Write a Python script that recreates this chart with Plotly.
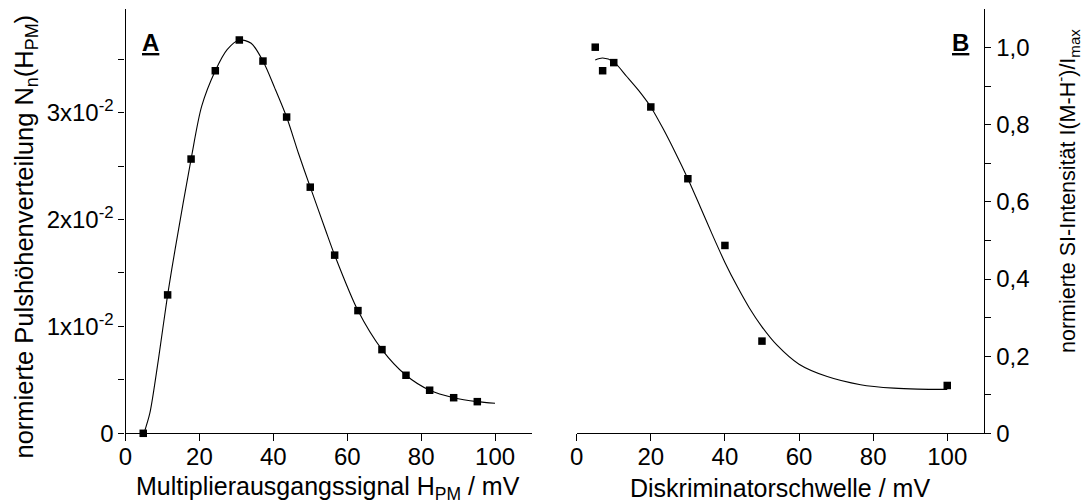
import plotly.graph_objects as go

# Panel A: normalised pulse height distribution
h_pm = [4.8, 11.4, 17.75, 24.3, 30.8, 37.2, 43.6, 50.0, 56.6, 62.9, 69.4, 75.9, 82.3, 88.8, 95.2]
n_n = [0.0000, 0.01295, 0.02566, 0.03392, 0.0368, 0.03483, 0.02959, 0.02303,
       0.01667, 0.01148, 0.00783, 0.00543, 0.00403, 0.00333, 0.00296]

fit_a_x = [5.0, 6.6, 8.9, 11.4, 13.4, 17.75, 20.6, 24.3, 27.5, 30.8, 34.0, 37.2, 40.4,
           43.6, 46.8, 50.0, 54.1, 56.6, 62.9, 69.4, 75.9, 82.3, 88.8, 95.2, 100.0]
fit_a_y = [0.0000, 0.0019, 0.0069, 0.01295, 0.01716, 0.02566, 0.03058, 0.03392, 0.0359,
           0.0368, 0.0365, 0.03483, 0.0323, 0.02959, 0.0262, 0.02303, 0.01905, 0.01667,
           0.01148, 0.00783, 0.00543, 0.00403, 0.00333, 0.00296, 0.00281]

# Panel B: normalised SI intensity vs. discriminator threshold
threshold = [5, 7, 10, 20, 30, 40, 50, 100]
intensity = [1.001, 0.940, 0.961, 0.846, 0.660, 0.487, 0.239, 0.124]

fit_b_x = [5, 7, 10, 13.5, 16.7, 20, 23.3, 26.6, 30, 33.3, 36.6, 40, 43.3, 46.6, 50,
           54, 60, 67.6, 76.6, 85.6, 92, 100]
fit_b_y = [0.968, 0.973, 0.963, 0.925, 0.889, 0.846, 0.790, 0.728, 0.660, 0.588, 0.515,
           0.443, 0.381, 0.325, 0.276, 0.229, 0.179, 0.147, 0.126, 0.117, 0.1145, 0.114]

x_ticks = [0, 20, 40, 60, 80, 100]
ya_ticks = [0, 0.01, 0.02, 0.03]
ya_text = ["0", "1x10<sup>-2</sup>", "2x10<sup>-2</sup>", "3x10<sup>-2</sup>"]
ya_minor = [0.005, 0.015, 0.025, 0.035]
yb_ticks = [0, 0.2, 0.4, 0.6, 0.8, 1.0]
yb_text = ["0", "0,2", "0,4", "0,6", "0,8", "1,0"]
yb_minor = [0.1, 0.3, 0.5, 0.7, 0.9]

W, H = 1083, 503
FONT = "Arial, Liberation Sans, sans-serif"


def px(x):
    return x / W


def py(y):
    return 1 - y / H


dom_a = [px(125.5), px(532.0)]
dom_b = [px(576.7), px(984.3)]
dom_y = [py(433.3), py(9.0)]

fig = go.Figure()

fig.add_trace(go.Scatter(x=fit_a_x, y=fit_a_y, mode="lines",
                         line=dict(color="black", width=1.1, shape="spline", smoothing=0.8),
                         xaxis="x", yaxis="y", showlegend=False, hoverinfo="skip"))
fig.add_trace(go.Scatter(x=h_pm, y=n_n, mode="markers",
                         marker=dict(symbol="square", size=7.5, color="black"),
                         xaxis="x", yaxis="y", showlegend=False, cliponaxis=False))
fig.add_trace(go.Scatter(x=fit_b_x, y=fit_b_y, mode="lines",
                         line=dict(color="black", width=1.1, shape="spline", smoothing=0.8),
                         xaxis="x2", yaxis="y2", showlegend=False, hoverinfo="skip"))
fig.add_trace(go.Scatter(x=threshold, y=intensity, mode="markers",
                         marker=dict(symbol="square", size=7.5, color="black"),
                         xaxis="x2", yaxis="y2", showlegend=False, cliponaxis=False))

axis_common = dict(showgrid=False, zeroline=False, showline=True, linecolor="black",
                   linewidth=1.2, tickcolor="black", tickwidth=1.2, automargin=False,
                   tickfont=dict(family=FONT, size=24, color="black"))


def minor_ticks(vals, direction):
    return dict(tickvals=vals, ticks=direction, ticklen=6, tickwidth=1.2,
                tickcolor="black", showgrid=False)


fig.update_layout(
    template="none",
    width=W, height=H, autosize=False,
    margin=dict(l=0, r=0, t=0, b=0, pad=0),
    paper_bgcolor="white", plot_bgcolor="white",
    font=dict(family=FONT, color="black"),
    xaxis=dict(domain=dom_a, range=[0, 110], tickvals=x_ticks, ticks="outside",
               ticklen=7, ticklabelstandoff=-5, anchor="y", **axis_common),
    yaxis=dict(domain=dom_y, range=[0, 0.0397], tickvals=ya_ticks, ticktext=ya_text,
               ticks="outside", ticklen=6, anchor="x",
               minor=minor_ticks(ya_minor, "outside"), **axis_common),
    xaxis3=dict(overlaying="x", side="top", anchor="y", range=[0, 110], tickvals=x_ticks,
                ticks="inside", ticklen=7, showticklabels=False, **axis_common),
    yaxis3=dict(overlaying="y", side="right", anchor="x", range=[0, 0.0397],
                tickvals=ya_ticks, ticks="inside", ticklen=6, showticklabels=False,
                minor=minor_ticks(ya_minor, "inside"), **axis_common),
    xaxis2=dict(domain=dom_b, range=[0, 110], tickvals=x_ticks, ticks="outside",
                ticklen=7, ticklabelstandoff=-5, anchor="y2", **axis_common),
    yaxis2=dict(domain=dom_y, range=[0, 1.1], tickvals=yb_ticks, ticktext=yb_text,
                side="right", ticks="outside", ticklen=6, anchor="x2",
                minor=minor_ticks(yb_minor, "outside"), **axis_common),
    xaxis4=dict(overlaying="x2", side="top", anchor="y2", range=[0, 110], tickvals=x_ticks,
                ticks="inside", ticklen=7, showticklabels=False, **axis_common),
    yaxis4=dict(overlaying="y2", side="left", anchor="x2", range=[0, 1.1],
                tickvals=yb_ticks, ticks="inside", ticklen=6, showticklabels=False,
                minor=minor_ticks(yb_minor, "inside"), **axis_common),
)

annotations = [
    dict(text="Multiplierausgangssignal H<sub>PM</sub> / mV", x=px(328), y=py(488),
         font=dict(size=25)),
    dict(text="Diskriminatorschwelle / mV", x=px(779.5), y=py(488), font=dict(size=25)),
    dict(text="normierte Pulshöhenverteilung N<sub>n</sub>(H<sub>PM</sub>)",
         x=px(26), y=py(236.5), textangle=-90, font=dict(size=25.5)),
    dict(text="normierte SI-Intensität I(M-H<sup>-</sup>)/I<sub>max</sub>",
         x=px(1067), y=py(191), textangle=-90, font=dict(size=21.5)),
    dict(text="<b><u>A</u></b>", x=px(150.7), y=py(43), font=dict(size=24)),
    dict(text="<b><u>B</u></b>", x=px(960), y=py(43), font=dict(size=24)),
]
for a in annotations:
    a.update(xref="paper", yref="paper", showarrow=False, xanchor="center", yanchor="middle")
    a["font"].update(family=FONT, color="black")
fig.update_layout(annotations=annotations)

fig.write_html("out.html")
